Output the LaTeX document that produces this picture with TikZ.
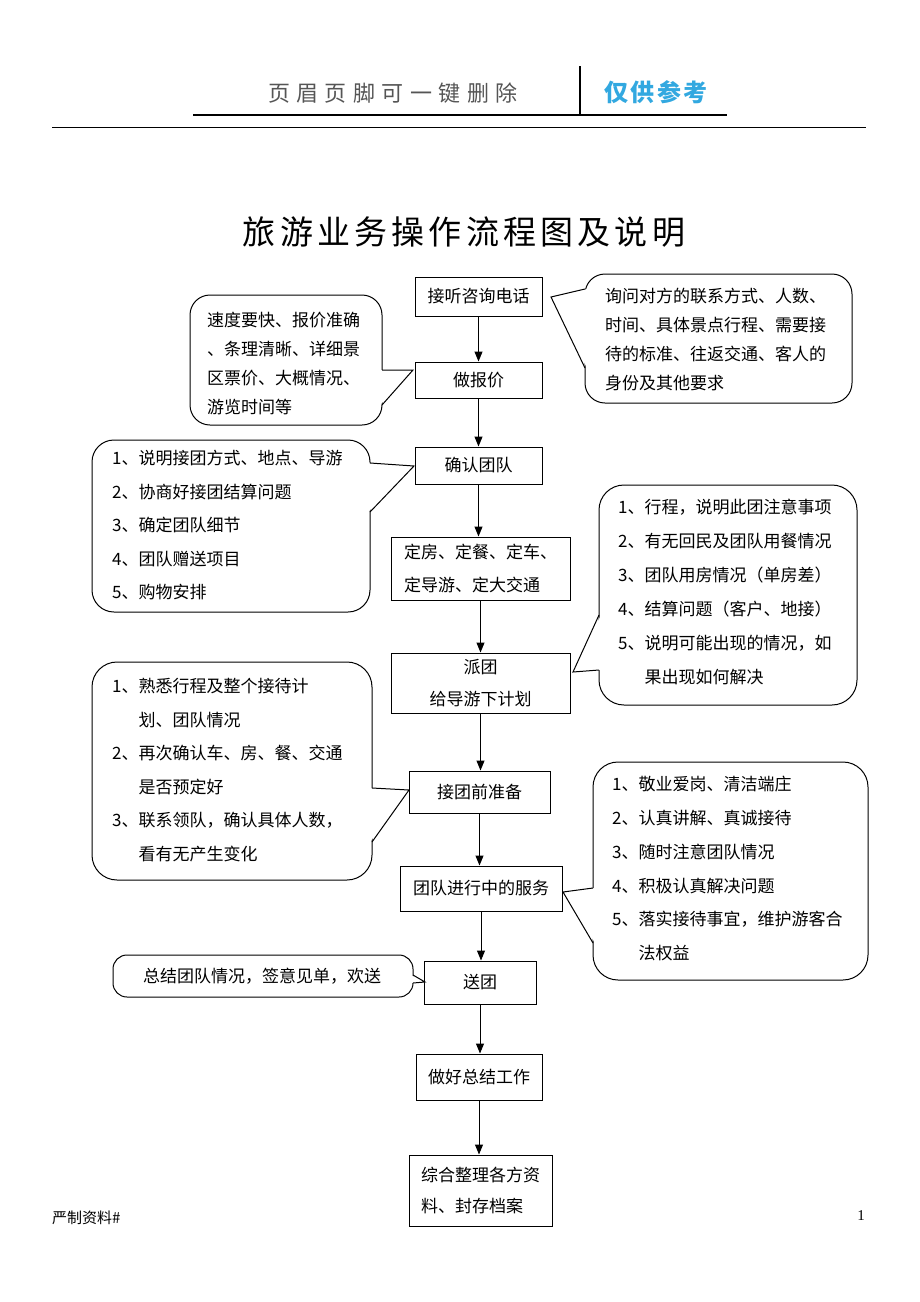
\documentclass[tikz,border=0pt]{standalone}
\usepackage{fontspec}
\setmainfont{Noto Sans CJK SC}
\newfontfamily\serifnum{Liberation Serif}
\usetikzlibrary{arrows.meta,calc}
\definecolor{hdrgray}{RGB}{85,85,85}
\definecolor{hdrblue}{RGB}{50,168,224}
\newcommand{\hdrgap}{\hspace{6.5pt}}
\newcommand{\ttlgap}{\hspace{4.2pt}}
\newcommand{\bluegap}{\hspace{2.3pt}}
\newcommand{\ind}{\hspace*{26.4pt}}
\tikzset{
 flowbox/.style={draw, line width=1pt, inner sep=0pt, font=\fontsize{17}{32}\selectfont},
 callbox/.style={draw, line width=1pt, fill=white, inner sep=0pt},
 calltext/.style={anchor=north west, inner sep=0pt, align=left},
 flowarrow/.style={line width=1pt, -{Triangle[length=10pt,width=8pt]}},
 pointer/.style={line width=1pt, line join=miter},
}
\begin{document}
\begin{tikzpicture}[x=1pt,y=-1pt]
\useasboundingbox[fill=white] (0,0) rectangle (920,1302);
% header
\node[font=\fontsize{22}{24}\selectfont, text=hdrgray, inner sep=0pt] (hdrl) at (393,93) {页\hdrgap 眉\hdrgap 页\hdrgap 脚\hdrgap 可\hdrgap 一\hdrgap 键\hdrgap 删\hdrgap 除};
\node[font=\bfseries\fontsize{24}{26}\selectfont, text=hdrblue, inner sep=0pt] (hdrr) at (656,92) {仅\bluegap 供\bluegap 参\bluegap 考};
\draw[line width=2.5pt] (193,115) -- (727,115);
\draw[line width=2.5pt] (580,66) -- (580,115);
\draw[line width=0.9pt] (52,127) -- (866,127);
% title
\node[font=\fontsize{33}{36}\selectfont, inner sep=0pt] (title) at (464,232) {旅\ttlgap 游\ttlgap 业\ttlgap 务\ttlgap 操\ttlgap 作\ttlgap 流\ttlgap 程\ttlgap 图\ttlgap 及\ttlgap 说\ttlgap 明};
% flow boxes
\node[flowbox, minimum width=127pt, minimum height=39pt] (b1) at (478.5,296.5) {接听咨询电话};
\node[flowbox, minimum width=127pt, minimum height=36pt] (b2) at (478.5,380) {做报价};
\node[flowbox, minimum width=127pt, minimum height=37pt] (b3) at (478.5,465.5) {确认团队};
\node[flowbox, minimum width=179pt, minimum height=63pt, align=left, font=\fontsize{17}{33}\selectfont] (b4) at (480.5,568.5) {定房、定餐、定车、\\定导游、定大交通};
\node[flowbox, minimum width=179pt, minimum height=60pt, align=center] (b5) at (480.5,683) {派团\\给导游下计划};
\node[flowbox, minimum width=141pt, minimum height=42pt] (b6) at (479.5,792) {接团前准备};
\node[flowbox, minimum width=162pt, minimum height=45pt] (b7) at (481,888.5) {团队进行中的服务};
\node[flowbox, minimum width=112pt, minimum height=43pt] (b8) at (480,982.5) {送团};
\node[flowbox, minimum width=126pt, minimum height=46pt] (b9) at (479,1077) {做好总结工作};
\node[flowbox, minimum width=143pt, minimum height=71pt, align=left, font=\fontsize{17}{31}\selectfont] (b10) at (480.5,1190.5) {综合整理各方资\\料、封存档案};
% arrows
\draw[flowarrow] (b1.south) -- (b1.south |- b2.north);
\draw[flowarrow] (b2.south) -- (b2.south |- b3.north);
\draw[flowarrow] (b3.south) -- (b3.south |- b4.north);
\draw[flowarrow] (b4.south) -- (b4.south |- b5.north);
\draw[flowarrow] (b5.south) -- (b5.south |- b6.north);
\draw[flowarrow] (b6.south) -- (b6.south |- b7.north);
\draw[flowarrow] (b7.south) -- (b7.south |- b8.north);
\draw[flowarrow] (b8.south) -- (b8.south |- b9.north);
\draw[flowarrow] (b9.south) -- (b9.south |- b10.north);
% callout 1
\node[callbox, rounded corners=20pt, minimum width=267pt, minimum height=129pt] (c1) at (718.5,338.5) {};
\coordinate (t1) at (551,297);
\fill[white] (t1) -- (587,289) -- (587,368) -- cycle;
\draw[pointer] (585,289) -- (t1) -- (585,368);
\node[calltext, font=\fontsize{17}{29}\selectfont] (c1t) at (605,288) {询问对方的联系方式、人数、\\时间、具体景点行程、需要接\\待的标准、往返交通、客人的\\身份及其他要求};
% callout 2
\node[callbox, rounded corners=20pt, minimum width=192pt, minimum height=130pt] (c2) at (286,360) {};
\coordinate (t2) at (413,370);
\fill[white] (t2) -- (380,370) -- (380,405) -- cycle;
\draw[pointer] (382,370) -- (t2) -- (382,405);
\node[calltext, font=\fontsize{17}{29}\selectfont] (c2t) at (207,312) {速度要快、报价准确\\、条理清晰、详细景\\区票价、大概情况、\\游览时间等};
% callout 3
\node[callbox, rounded corners=22pt, minimum width=278pt, minimum height=172pt] (c3) at (231,526) {};
\coordinate (t3) at (414,466);
\fill[white] (t3) -- (368,463) -- (368,512) -- cycle;
\draw[pointer] (370,463) -- (t3) -- (370,512);
\node[calltext, font=\fontsize{17}{33.5}\selectfont] (c3t) at (112,450) {1、说明接团方式、地点、导游\\2、协商好接团结算问题\\3、确定团队细节\\4、团队赠送项目\\5、购物安排};
% callout 4
\node[callbox, rounded corners=25pt, minimum width=258pt, minimum height=220pt] (c4) at (728,595) {};
\coordinate (t4) at (573,672);
\fill[white] (t4) -- (601,615) -- (601,670) -- cycle;
\draw[pointer] (599,615) -- (t4) -- (599,670);
\node[calltext, font=\fontsize{17}{34}\selectfont] (c4t) at (618,499) {1、行程，说明此团注意事项\\2、有无回民及团队用餐情况\\3、团队用房情况（单房差）\\4、结算问题（客户、地接）\\5、说明可能出现的情况，如\\\ind 果出现如何解决};
% callout 5
\node[callbox, rounded corners=25pt, minimum width=280pt, minimum height=218pt] (c5) at (232,771) {};
\coordinate (t5) at (409,790);
\fill[white] (t5) -- (370,788) -- (370,842) -- cycle;
\draw[pointer] (372,788) -- (t5) -- (372,842);
\node[calltext, font=\fontsize{17}{33.6}\selectfont] (c5t) at (112,678) {1、熟悉行程及整个接待计\\\ind 划、团队情况\\2、再次确认车、房、餐、交通\\\ind 是否预定好\\3、联系领队，确认具体人数，\\\ind 看有无产生变化};
% callout 6
\node[callbox, rounded corners=25pt, minimum width=275pt, minimum height=218pt] (c6) at (730.5,871) {};
\coordinate (t6) at (563,892);
\fill[white] (t6) -- (595,888) -- (595,943) -- cycle;
\draw[pointer] (593,888) -- (t6) -- (593,943);
\node[calltext, font=\fontsize{17}{33.8}\selectfont] (c6t) at (612,776) {1、敬业爱岗、清洁端庄\\2、认真讲解、真诚接待\\3、随时注意团队情况\\4、积极认真解决问题\\5、落实接待事宜，维护游客合\\\ind 法权益};
% callout 7
\node[callbox, rounded corners=14pt, minimum width=300pt, minimum height=42pt] (c7) at (263,976) {};
\coordinate (t7) at (425,982);
\fill[white] (t7) -- (411,975) -- (411,983) -- cycle;
\draw[pointer] (413,975) -- (t7) -- (413,983);
\node[inner sep=0pt, font=\fontsize{17}{20}\selectfont] (c7t) at (262,976) {总结团队情况，签意见单，欢送};
% footer
\node[anchor=west, inner sep=0pt, font=\fontsize{15}{16}\selectfont] (foot) at (52,1218) {严制资料\#};
\node[inner sep=0pt, font=\serifnum\fontsize{15}{16}\selectfont] (pg) at (861,1216) {1};
\end{tikzpicture}
\end{document}
